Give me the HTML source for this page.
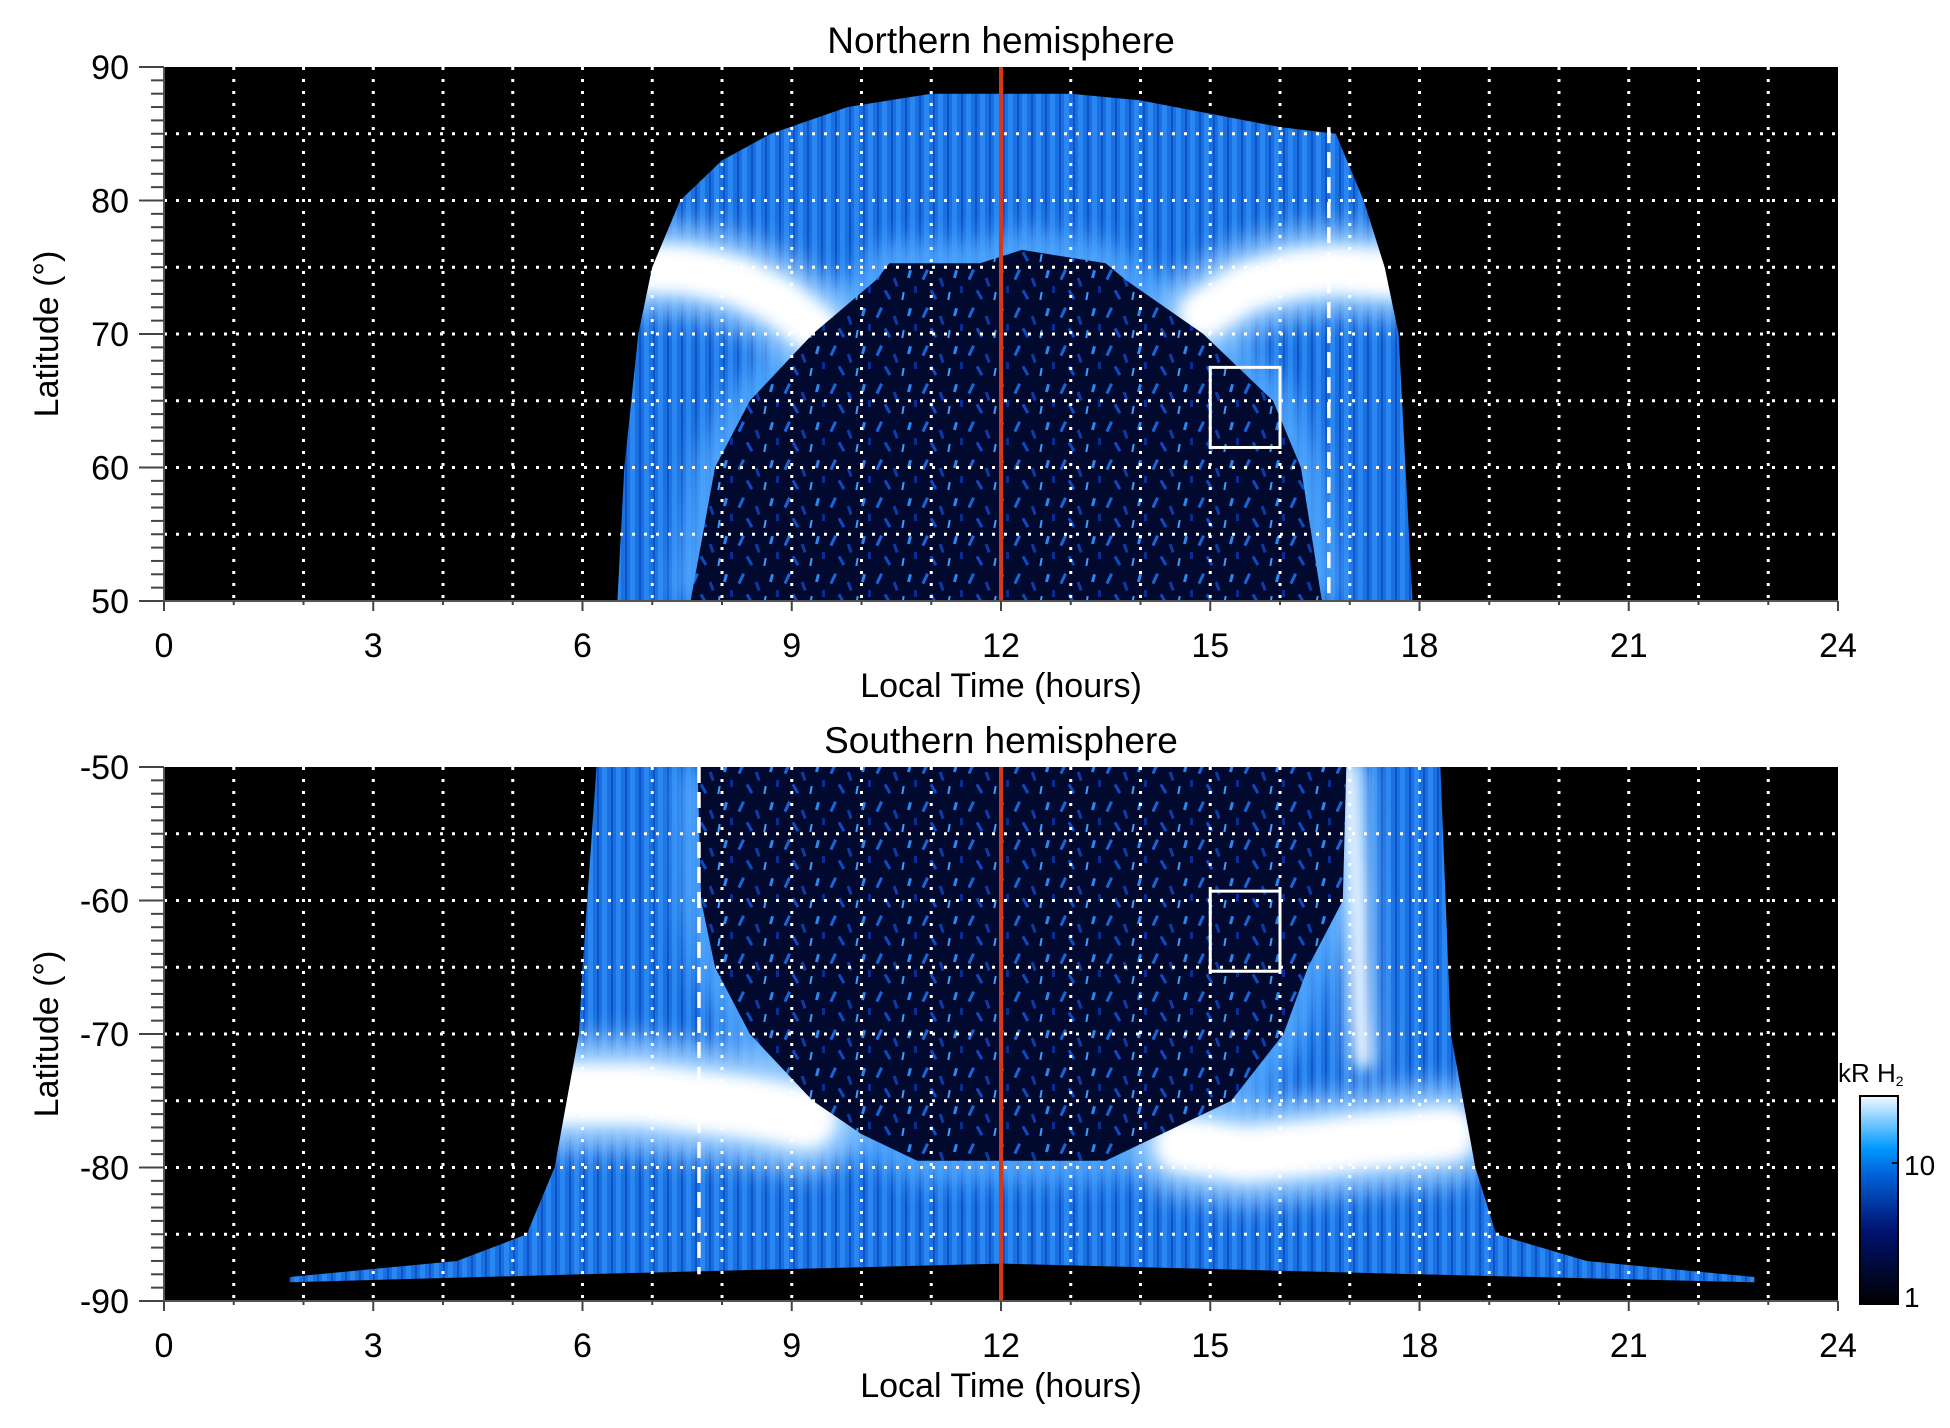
<!DOCTYPE html>
<html><head><meta charset="utf-8">
<style>
html,body{margin:0;padding:0;background:#fff;}
body{width:1950px;height:1423px;overflow:hidden;font-family:"Liberation Sans",sans-serif;}
svg text{font-family:"Liberation Sans",sans-serif;fill:#000;}
</style></head>
<body>
<svg id="fig" width="1950" height="1423" viewBox="0 0 1950 1423" xmlns="http://www.w3.org/2000/svg">
<defs>
  <filter id="blur6" filterUnits="userSpaceOnUse" x="0" y="0" width="1950" height="1423"><feGaussianBlur stdDeviation="7"/></filter>
  <filter id="blur12" filterUnits="userSpaceOnUse" x="0" y="0" width="1950" height="1423"><feGaussianBlur stdDeviation="14"/></filter>
  <pattern id="speck" width="46" height="38" patternUnits="userSpaceOnUse">
    <rect width="46" height="38" fill="#010a2e"/>
    <rect x="4" y="3" width="3" height="11" fill="#1a64d8" transform="rotate(25 5 8)"/>
    <rect x="20" y="12" width="3" height="9" fill="#0d3aa8" transform="rotate(-20 21 16)"/>
    <rect x="34" y="4" width="3" height="8" fill="#2a86f0" transform="rotate(15 35 8)"/>
    <rect x="12" y="24" width="3" height="10" fill="#0f48c0" transform="rotate(-30 13 29)"/>
    <rect x="28" y="26" width="2" height="8" fill="#3a9cff" transform="rotate(10 29 30)"/>
    <rect x="40" y="20" width="3" height="7" fill="#0a2c90"/>
  </pattern>
  <pattern id="streak" width="14" height="10" patternUnits="userSpaceOnUse">
    <rect width="14" height="10" fill="#1a70e0"/>
    <rect x="0" y="0" width="5" height="10" fill="#2a86f0"/>
    <rect x="9" y="0" width="2" height="10" fill="#0c52c8"/>
  </pattern>
  <linearGradient id="cbar" x1="0" y1="1" x2="0" y2="0">
    <stop offset="0" stop-color="#000000"/>
    <stop offset="0.35" stop-color="#00126e"/>
    <stop offset="0.62" stop-color="#0060d8"/>
    <stop offset="0.75" stop-color="#0099ff"/>
    <stop offset="1" stop-color="#f4faff"/>
  </linearGradient>
</defs>
<g id="root"></g>
</svg>
<script>
// ---- data ----
const xTicks = [0,3,6,9,12,15,18,21,24];
const nLatTicks = [90,80,70,60,50];
const sLatTicks = [-50,-60,-70,-80,-90];
// Northern: outer emission boundary
const nOuterH   = [6.5,6.6,6.8,7.0,7.4,8.0,8.7,9.8,11,12,13,14,15,16,16.8,17.2,17.5,17.7,17.8,17.9];
const nOuterLat = [50,60,70,75,80,83,85,87,88,88,88,87.5,86.5,85.5,85,80,75,70,60,50];
// Northern: dark polar-cap dome
const nDomeH   = [7.55,7.9,8.4,9.3,10.2,10.4,11.7,12.3,13.5,13.8,14.9,15.9,16.3,16.6];
const nDomeLat = [50,60,65,70,74,75.3,75.3,76.3,75.3,74,70,65,60,50];
// Northern bright arcs
const nArcLH = [6.6,7.5,8.2,8.8,9.3];
const nArcLLat = [75,74.8,74,72.5,70.5];
const nArcRH = [14.9,15.5,16.2,16.8,17.6];
const nArcRLat = [71.5,73.5,74.5,74.8,74.5];
// Southern outer emission boundary
const sOuterH   = [6.2,6.0,5.95,5.6,5.2,4.2,1.8,1.8,6,12,18,22.8,22.8,20.4,19.1,18.8,18.45,18.3];
const sOuterLat = [-50,-65,-70,-80,-85,-87,-88.2,-88.6,-88,-87.2,-88,-88.6,-88.2,-87,-85,-80,-70,-50];
// Southern dark dome
const sDomeH   = [7.65,7.7,7.9,8.4,9.3,10.0,10.8,13.5,14.3,15.3,16.05,16.4,16.9,16.95];
const sDomeLat = [-50,-60,-65,-70,-75,-77.5,-79.5,-79.5,-77.5,-75,-70,-65,-60,-50];
// Southern bright arcs
const sArcLH = [5.6,6.8,7.6,8.4,9.2];
const sArcLLat = [-74.5,-74.5,-75,-75.5,-76.3];
const sArcRH = [14.6,15.5,16.5,17.3,18.4];
const sArcRLat = [-78.3,-79,-78.5,-78,-77.5];
const sLineRH = [17.0,17.1,17.15,17.2];
const sLineRLat = [-50,-60,-68,-72];
// markers
const noonH = 12;
const nDashH = 16.7, nDashTop = 85.5;
const sDashH = 7.67, sDashBot = -88;
const nBox = [15.0,16.0,61.5,67.5];
const sBox = [15.0,16.0,-65.3,-59.3];

// ---- scales ----
const X0=164, PXH=69.75;
const xs = h => X0 + h*PXH;
const PXD = 13.35;
const ysN = l => 67 + (90-l)*PXD;
const ysS = l => 767 + (-50-l)*PXD;
const NS='http://www.w3.org/2000/svg';
const root=document.getElementById('root');
function mk(tag, attrs, parent){const e=document.createElementNS(NS,tag);for(const k in attrs)e.setAttribute(k,attrs[k]);(parent||root).appendChild(e);return e;}
function pts(H,L,ys){return H.map((h,i)=>xs(h).toFixed(1)+','+ys(L[i]).toFixed(1)).join(' ');}

function panel(cfg){
  const g=mk('g',{});
  
  
  const top=cfg.ys(cfg.latTop), bot=cfg.ys(cfg.latBot);
  const clipId='clip'+cfg.name;
  const cp=mk('clipPath',{id:clipId},g); mk('rect',{x:xs(0),y:top,width:xs(24)-xs(0),height:bot-top},cp);
  const bandClip='band'+cfg.name;
  const cp2=mk('clipPath',{id:bandClip},g); mk('polygon',{points:pts(cfg.outerH,cfg.outerLat,cfg.ys)},cp2);
  const bg=mk('rect',{x:xs(0),y:top,width:xs(24)-xs(0),height:bot-top,fill:'#000'},g);
  
  
  const d=mk('g',{'clip-path':'url(#'+clipId+')'},g);
  const outer=mk('polygon',{points:pts(cfg.outerH,cfg.outerLat,cfg.ys),fill:'url(#streak)'},d);
  
  
  const inner=mk('g',{'clip-path':'url(#'+bandClip+')'},d);
  mk('polyline',{points:pts(cfg.domeH,cfg.domeLat,cfg.ys),fill:'none',stroke:'#55aaff',"stroke-width":40,filter:'url(#blur12)',opacity:0.9},inner);
  cfg.arcs.forEach((a,i)=>{
    mk('polyline',{points:pts(a[0],a[1],cfg.ys),fill:'none',stroke:'#9fd0ff',"stroke-width":a[2]*PXD*1.8,"stroke-linecap":'round',"stroke-linejoin":'round',filter:'url(#blur12)'},inner);
    const arc=mk('polyline',{points:pts(a[0],a[1],cfg.ys),fill:'none',stroke:'#ffffff',"stroke-width":a[2]*PXD,"stroke-linecap":'round',"stroke-linejoin":'round',filter:'url(#blur6)'},inner);
    
    
  });
  const dome=mk('polygon',{points:pts(cfg.domeH,cfg.domeLat,cfg.ys),fill:'url(#speck)'},d);
  
  
  for(let h=1;h<24;h++){
    mk('line',{x1:xs(h),x2:xs(h),y1:top,y2:bot,stroke:'#fff',"stroke-width":3,"stroke-dasharray":'3 9'},g);
  }
  for(let l=Math.min(cfg.latTop,cfg.latBot)+5;l<Math.max(cfg.latTop,cfg.latBot);l+=5){
    mk('line',{x1:xs(0),x2:xs(24),y1:cfg.ys(l),y2:cfg.ys(l),stroke:'#fff',"stroke-width":3,"stroke-dasharray":'3 9'},g);
  }
  const dl=mk('line',{x1:xs(cfg.dashH),x2:xs(cfg.dashH),y1:cfg.ys(cfg.dashA),y2:cfg.ys(cfg.dashB),stroke:'#fff',"stroke-width":3.5,"stroke-dasharray":'16 9'},g);
  
  
  const nl=mk('line',{x1:xs(noonH),x2:xs(noonH),y1:top,y2:bot,stroke:'#d6381a',"stroke-width":4},g);
  
  
  const b=cfg.box;
  const bx=mk('rect',{x:xs(b[0]),y:cfg.ys(b[3]),width:xs(b[1])-xs(b[0]),height:cfg.ys(b[2])-cfg.ys(b[3]),fill:'none',stroke:'#fff',"stroke-width":3},g);
  
  
  mk('line',{x1:xs(0),x2:xs(24),y1:bot,y2:bot,stroke:'#555',"stroke-width":2},g);
  mk('line',{x1:xs(0),x2:xs(0),y1:top,y2:bot,stroke:'#555',"stroke-width":2},g);
  for(let h=0;h<=24;h++){
    const major=h%3===0;
    mk('line',{x1:xs(h),x2:xs(h),y1:bot,y2:bot+(major?10:4),stroke:'#444',"stroke-width":2},g);
  }
  for(let l=Math.min(cfg.latTop,cfg.latBot);l<=Math.max(cfg.latTop,cfg.latBot);l++){
    const major=l%10===0;
    mk('line',{x1:xs(0)-(major?25:13),x2:xs(0),y1:cfg.ys(l),y2:cfg.ys(l),stroke:'#444',"stroke-width":2},g);
  }
  xTicks.forEach(h=>{
    const t=mk('text',{x:xs(h),y:bot+56,"font-size":34,"text-anchor":'middle'},g);t.textContent=h;
    
    
  });
  cfg.latTicks.forEach(l=>{
    const t=mk('text',{x:129,y:cfg.ys(l)+12,"font-size":34,"text-anchor":'end'},g);t.textContent=l;
    
    
  });
  const xt=mk('text',{x:xs(12),y:bot+96,"font-size":34,"text-anchor":'middle'},g);xt.textContent='Local Time (hours)';
  
  
  const yc=(top+bot)/2;
  const yt=mk('text',{x:0,y:0,"font-size":34,"text-anchor":'middle',transform:'translate(58,'+yc+') rotate(-90)'},g);yt.textContent='Latitude (°)';
  
  
  const tt=mk('text',{x:xs(12),y:top-14,"font-size":37,"text-anchor":'middle'},g);tt.textContent=cfg.title;
  
  
}

panel({name:'northern-panel',title:'Northern hemisphere',ys:ysN,latTop:90,latBot:50,latTicks:nLatTicks,
  outerH:nOuterH,outerLat:nOuterLat,domeH:nDomeH,domeLat:nDomeLat,
  arcs:[[nArcLH,nArcLLat,3.5],[nArcRH,nArcRLat,3.5]],
  dashH:nDashH,dashA:nDashTop,dashB:50,box:nBox});
panel({name:'southern-panel',title:'Southern hemisphere',ys:ysS,latTop:-50,latBot:-90,latTicks:sLatTicks,
  outerH:sOuterH,outerLat:sOuterLat,domeH:sDomeH,domeLat:sDomeLat,
  arcs:[[sArcLH,sArcLLat,4.5],[sArcRH,sArcRLat,4],[sLineRH,sLineRLat,1]],
  dashH:sDashH,dashA:-50,dashB:sDashBot,box:sBox});

const cb=mk('g',{});


mk('rect',{x:1860,y:1096,width:38,height:208,fill:'url(#cbar)',stroke:'#000',"stroke-width":2},cb);
mk('line',{x1:1898,x2:1892,y1:1163,y2:1163,stroke:'#000',"stroke-width":2},cb);
const c1=mk('text',{x:1904,y:1175,"font-size":28},cb);c1.textContent='10';


const c2=mk('text',{x:1904,y:1307,"font-size":28},cb);c2.textContent='1';


const cu=mk('text',{x:1838,y:1082,"font-size":26},cb);cu.innerHTML='kR H<tspan font-size="14" dy="4">2</tspan>';


</script>
</body></html>
